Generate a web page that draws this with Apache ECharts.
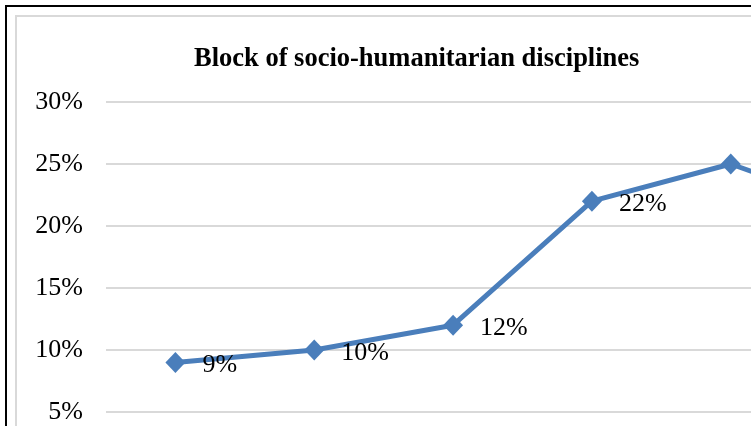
<!DOCTYPE html>
<html>
<head>
<meta charset="utf-8">
<script src="https://cdn.jsdelivr.net/npm/echarts@6/dist/echarts.min.js"></script>
<style>
  html, body { margin: 0; padding: 0; width: 751px; height: 426px; overflow: hidden; background: #fff; }
  #outer { position: absolute; left: 5px; top: 5px; width: 1100px; height: 600px; border: 2px solid #000; box-sizing: border-box; }
  #inner { position: absolute; left: 15px; top: 15px; width: 1100px; height: 600px; border: 2px solid #d9d9d9; box-sizing: border-box; }
  #chart { position: absolute; left: 0; top: 0; width: 1000px; height: 540px; }
</style>
</head>
<body>
<div id="outer"></div>
<div id="inner"></div>
<div id="chart"></div>
<script>
// Share of the socio-humanitarian block by stage
const categories = ['1', '2', '3', '4', '5', '6'];
const shares = [0.09, 0.10, 0.12, 0.22, 0.25, 0.21];
const yTicks = { min: 0, max: 0.30, step: 0.05 };
const chartTitle = 'Block of socio-humanitarian disciplines';

const serif = '"Times New Roman", "Liberation Serif", serif';
const pct = v => Math.round(v * 100) + '%';

const chart = echarts.init(document.getElementById('chart'), null, { renderer: 'canvas' });
chart.setOption({
  animation: false,
  title: {
    text: chartTitle,
    left: 189,
    top: 41,
    textStyle: { fontFamily: serif, fontSize: 26.5, fontWeight: 'bold', color: '#000' }
  },
  grid: { left: 106, top: 102, width: 833, height: 372, containLabel: false },
  xAxis: {
    type: 'category',
    data: categories,
    boundaryGap: true,
    axisLine: { lineStyle: { color: '#d9d9d9', width: 2 } },
    axisTick: { show: false },
    axisLabel: { fontFamily: serif, fontSize: 26, color: '#000' }
  },
  yAxis: {
    type: 'value',
    min: yTicks.min,
    max: yTicks.max,
    interval: yTicks.step,
    axisLine: { show: false },
    axisTick: { show: false },
    axisLabel: { formatter: pct, fontFamily: serif, fontSize: 26, color: '#000', margin: 23 },
    splitLine: { lineStyle: { color: '#d9d9d9', width: 2 } }
  },
  series: [{
    type: 'line',
    data: shares,
    symbol: 'diamond',
    symbolSize: [20, 21],
    itemStyle: { color: '#4a7ebb' },
    lineStyle: { color: '#4a7ebb', width: 5 },
    label: {
      show: true,
      position: 'right',
      distance: 17,
      offset: [0, 3],
      formatter: p => pct(p.value),
      fontFamily: serif,
      fontSize: 26,
      color: '#000'
    }
  }]
});
</script>
</body>
</html>
